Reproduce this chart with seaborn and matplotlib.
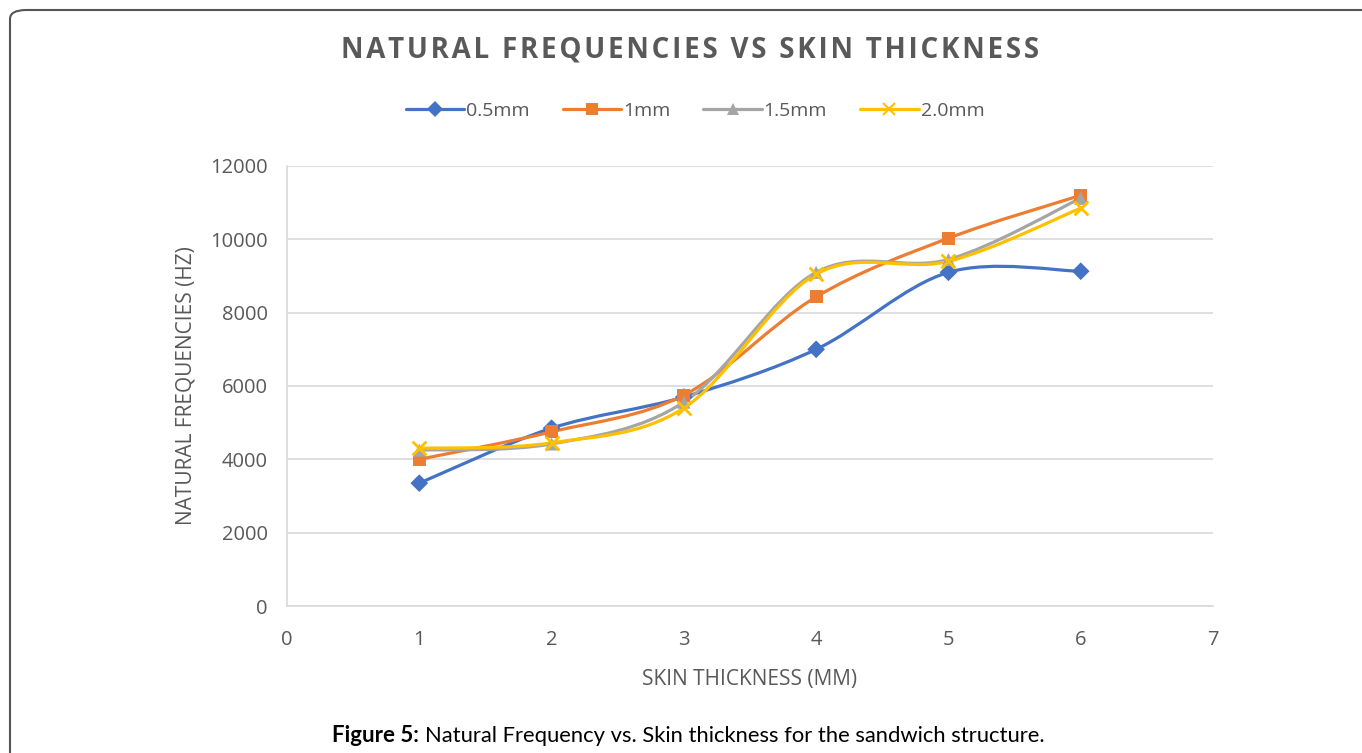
import numpy as np
import pandas as pd
import seaborn as sns
import matplotlib.pyplot as plt
from matplotlib.path import Path
from matplotlib.patches import PathPatch, FancyBboxPatch
from matplotlib.lines import Line2D

# data
thickness = [1, 2, 3, 4, 5, 6]
series_names = ["0.5mm", "1mm", "1.5mm", "2.0mm"]
freq_05 = [3350, 4850, 5700, 7000, 9100, 9130]
freq_10 = [4000, 4750, 5750, 8430, 10030, 11200]
freq_15 = [4250, 4420, 5560, 9100, 9450, 11120]
freq_20 = [4300, 4450, 5400, 9050, 9400, 10850]
colors = ["#4472C4", "#ED7D31", "#A5A5A5", "#FFC000"]
markers = ["D", "s", "^", "x"]
msizes = [9, 9.5, 9.5, 10]

sns.set_theme(style="white")
plt.rcParams['font.family'] = ['Open Sans', 'DejaVu Sans']

fig = plt.figure(figsize=(13.62, 7.53), dpi=100)
ax = fig.add_axes([287 / 1362, 1 - 606 / 753, (1213 - 287) / 1362, (606 - 166) / 753])

# outer frame like the source page
frame = FancyBboxPatch((10 / 1362, -0.05), 1.1, 1 - 10 / 753 + 0.05,
                       boxstyle="round,pad=0,rounding_size=0.012",
                       transform=fig.transFigure, fill=False,
                       edgecolor="#555555", linewidth=1.5, clip_on=False)
fig.patches.append(frame)

rows = []
for name, vals in zip(series_names, [freq_05, freq_10, freq_15, freq_20]):
    for t, v in zip(thickness, vals):
        rows.append({"thickness": t, "freq": v, "series": name})
df = pd.DataFrame(rows)


# excel-style smoothed line through the points (bezier segments)
def smooth_path(x, y):
    pts = np.column_stack([x, y]).astype(float)
    n = len(pts)
    verts = [pts[0]]
    codes = [Path.MOVETO]
    for i in range(n - 1):
        p_prev = pts[i - 1] if i > 0 else pts[i]
        p_next2 = pts[i + 2] if i + 2 < n else pts[i + 1]
        c1 = pts[i] + (pts[i + 1] - p_prev) / 6
        c2 = pts[i + 1] - (p_next2 - pts[i]) / 6
        verts += [c1, c2, pts[i + 1]]
        codes += [Path.CURVE4] * 3
    return Path(verts, codes)


for name, col, mk, ms in zip(series_names, colors, markers, msizes):
    sub = df[df["series"] == name]
    ax.add_patch(PathPatch(smooth_path(sub["thickness"], sub["freq"]),
                           facecolor="none", edgecolor=col, linewidth=2.3,
                           capstyle="round", joinstyle="round", zorder=2))
    kw = dict(edgecolor="none") if mk != "x" else dict(linewidth=2.0)
    sns.scatterplot(data=sub, x="thickness", y="freq", color=col, marker=mk,
                    s=ms ** 2, ax=ax, zorder=3, legend=False, **kw)

ax.set_xlim(0, 7)
ax.set_ylim(0, 12000)
ax.set_xticks(range(0, 8))
ax.set_yticks(range(0, 12001, 2000))
ax.yaxis.grid(True, color="#D9D9D9", linewidth=1.2)
ax.xaxis.grid(False)
for side in ["top", "right"]:
    ax.spines[side].set_visible(False)
ax.spines["left"].set_color("#D9D9D9")
ax.spines["bottom"].set_color("#D9D9D9")
ax.spines["left"].set_linewidth(1.2)
ax.spines["bottom"].set_linewidth(1.2)
ax.tick_params(axis="both", labelsize=14.5, labelcolor="#595959", length=0)
ax.tick_params(axis="x", pad=17)
ax.tick_params(axis="y", pad=14)

ax.set_xlabel("SKIN THICKNESS (MM)", fontsize=15, color="#595959", labelpad=14)
ax.set_ylabel("NATURAL FREQUENCIES (HZ)", fontsize=15, color="#595959", labelpad=10)

title = "NATURAL FREQUENCIES VS SKIN THICKNESS"
spaced = "\u200a".join(title)
fig.text(690 / 1362, 1 - 50 / 753, spaced,
         ha="center", va="center", fontsize=20, fontweight="bold", color="#595959")

handles = [Line2D([0], [0], color=c, marker=m, linewidth=2.3, markersize=8,
                  markeredgewidth=1.5 if m == "x" else 0)
           for c, m in zip(colors, markers)]
fig.legend(handles, series_names, loc="center", bbox_to_anchor=(695 / 1362, 1 - 111 / 753),
           ncol=4, frameon=False, fontsize=14, handlelength=3, columnspacing=1.7,
           handletextpad=0.1, labelcolor="#595959")

fig.text(419 / 1362, 1 - 736 / 753, "Figure 5:", ha="right", va="center", fontsize=16,
         fontweight="bold", color="black", family=["Lato", "DejaVu Sans"])
fig.text(425 / 1362, 1 - 736 / 753, "Natural Frequency vs. Skin thickness for the sandwich structure.",
         ha="left", va="center", fontsize=15.8, color="black", family=["Lato", "DejaVu Sans"])

fig.savefig("out.png", dpi=100)
